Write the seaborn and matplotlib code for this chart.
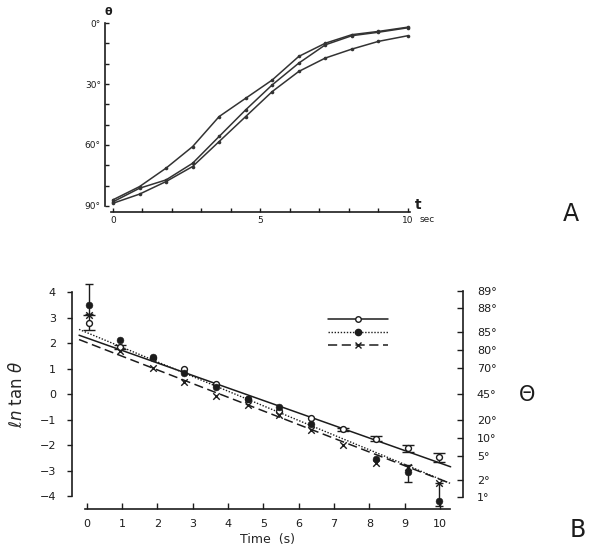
import numpy as np
import matplotlib
matplotlib.use('Agg')
import matplotlib.pyplot as plt
from matplotlib.lines import Line2D
import seaborn as sns

# Painel A: angulo (graus) contra tempo (s)
tempo_a = [0, 0.9, 1.8, 2.7, 3.6, 4.5, 5.4, 6.3, 7.2, 8.1, 9.0, 10.0]
theta_1 = [87.0, 80.5, 71.4, 60.8, 46.0, 37.0, 28.0, 16.4, 9.9, 5.7, 4.1, 2.0]
theta_2 = [88.0, 81.3, 77.2, 69.0, 55.8, 42.7, 30.4, 19.7, 10.7, 6.2, 4.5, 2.3]
theta_3 = [88.7, 84.2, 78.0, 70.6, 58.3, 46.0, 33.7, 23.8, 17.2, 12.8, 9.0, 6.2]

# Painel B: ln tan(theta) contra tempo (s)
tempo_b = [0.05, 0.93, 1.86, 2.75, 3.67, 4.57, 5.44, 6.36, 7.26, 8.2, 9.08, 9.98]
aberto = [2.8, 1.85, 1.42, 0.98, 0.38, -0.2, -0.65, -0.95, -1.37, -1.74, -2.13, -2.48]
aberto_erro = [0.3, 0.08, 0, 0, 0, 0, 0, 0, 0.06, 0.1, 0.12, 0.18]
cheio = [3.5, 2.12, 1.45, 0.84, 0.29, -0.21, -0.5, -1.18, np.nan, -2.56, -3.05, -4.18]
cheio_erro_baixo = [0.35, 0, 0, 0, 0, 0, 0, 0, 0, 0, 0.38, 0.22]
cheio_erro_cima = [0.8, 0, 0, 0, 0, 0, 0, 0, 0, 0, 0.27, 0.68]
cruz = [3.1, 1.7, 1.02, 0.48, -0.08, -0.43, -0.8, -1.41, -2.0, -2.69, -2.85, -3.5]

# retas ajustadas (intercepto, inclinacao) e intervalo de tempo
ajuste_aberto = (2.2, -0.49)
ajuste_cheio = (2.41, -0.574)
ajuste_cruz = (2.02, -0.536)
tempo_ajuste = [-0.22, 10.3]

graus_direita = [1, 2, 5, 10, 20, 45, 70, 80, 85, 88, 89]

TINTA = '#1c1c1c'


def desenhar():
    sns.set_style('ticks')
    plt.rcParams['font.family'] = ['DejaVu Sans']
    plt.rcParams['axes.edgecolor'] = TINTA
    plt.rcParams['xtick.color'] = TINTA
    plt.rcParams['ytick.color'] = TINTA
    plt.rcParams['text.color'] = TINTA

    fig = plt.figure(figsize=(5.99, 5.54), dpi=100)

    # ---------- Painel A ----------
    axA = fig.add_axes([105 / 599, 1 - 212 / 554, 305 / 599, 195 / 554])
    for th in (theta_1, theta_2, theta_3):
        sns.lineplot(x=tempo_a, y=th, ax=axA, color='#333333', linewidth=1.1,
                     marker='o', markersize=2.6, markeredgewidth=0)
    axA.set_xlim(-0.27, 10.07)
    axA.set_ylim(93, -3)
    for s in ('top', 'right'):
        axA.spines[s].set_visible(False)
    axA.spines['left'].set_bounds(0, 90)
    axA.spines['bottom'].set_bounds(-0.05, 10.07)
    axA.spines['left'].set_linewidth(1.2)
    axA.spines['bottom'].set_linewidth(1.2)
    axA.set_yticks([0, 30, 60, 90])
    axA.set_yticklabels(['0°', '30°', '60°', '90°'])
    axA.set_yticks(range(0, 91, 10), minor=True)
    axA.set_xticks([0, 5, 10])
    axA.set_xticks(range(0, 11), minor=True)
    axA.tick_params(which='both', direction='in', length=3, width=1, labelsize=6.5, pad=3)
    axA.set_xlabel('')
    axA.set_ylabel('')
    fig.text(108 / 599, 1 - 12 / 554, 'θ', fontsize=8, fontweight='bold', ha='center', va='center')
    fig.text(418 / 599, 1 - 205 / 554, 't', fontsize=10, fontweight='bold', ha='center', va='center')
    fig.text(420 / 599, 1 - 220 / 554, 'sec', fontsize=6.5, ha='left', va='center')
    fig.text(571 / 599, 1 - 214 / 554, 'A', fontsize=17, ha='center', va='center')

    # ---------- Painel B ----------
    axB = fig.add_axes([72 / 599, 1 - 509 / 554, 391 / 599, 229.75 / 554])
    t_fit = np.array(tempo_ajuste)
    sns.lineplot(x=t_fit, y=ajuste_aberto[0] + ajuste_aberto[1] * t_fit, ax=axB,
                 color=TINTA, linewidth=1.1, linestyle='-')
    sns.lineplot(x=t_fit, y=ajuste_cheio[0] + ajuste_cheio[1] * t_fit, ax=axB,
                 color=TINTA, linewidth=1.0, linestyle=(0, (1, 1.2)))
    sns.lineplot(x=t_fit, y=ajuste_cruz[0] + ajuste_cruz[1] * t_fit, ax=axB,
                 color=TINTA, linewidth=1.1, linestyle=(0, (6, 3)))

    tb = np.array(tempo_b)
    ea = np.array(aberto_erro)
    m = ea > 0
    axB.errorbar(tb[m], np.array(aberto)[m], yerr=ea[m], fmt='none', ecolor=TINTA,
                 elinewidth=1, capsize=4, capthick=1, clip_on=False)
    eb = np.array(cheio_erro_baixo)
    ec = np.array(cheio_erro_cima)
    m2 = (eb + ec) > 0
    axB.errorbar(tb[m2], np.array(cheio)[m2], yerr=[eb[m2], ec[m2]], fmt='none',
                 ecolor=TINTA, elinewidth=1, capsize=3, capthick=1, clip_on=False)

    sns.scatterplot(x=tempo_b, y=aberto, ax=axB, marker='o', s=18, facecolor='white',
                    edgecolor=TINTA, linewidth=1, zorder=5, clip_on=False)
    sns.scatterplot(x=tempo_b, y=cheio, ax=axB, marker='o', s=24, color=TINTA,
                    edgecolor=TINTA, zorder=5, clip_on=False)
    sns.scatterplot(x=tempo_b, y=cruz, ax=axB, marker='x', s=22, color=TINTA,
                    linewidth=1, zorder=5, clip_on=False)

    axB.set_xlim(-0.42, 10.65)
    axB.set_ylim(-4.5, 4.5)
    axB.spines['top'].set_visible(False)
    axB.spines['right'].set_visible(False)
    axB.spines['left'].set_bounds(-4, 4)
    axB.spines['bottom'].set_bounds(-0.06, 10.28)
    for s in ('left', 'bottom'):
        axB.spines[s].set_linewidth(1.2)
    axB.set_yticks(range(-4, 5))
    axB.set_yticklabels([str(v).replace('-', '−') for v in range(-4, 5)])
    axB.set_yticks([-4, 4], minor=True)
    axB.tick_params(axis='y', which='major', direction='out', length=3.5, width=1,
                    labelsize=8, pad=8)
    axB.tick_params(axis='y', which='minor', direction='in', length=4, width=1)
    axB.set_xticks(range(0, 11))
    axB.tick_params(axis='x', direction='in', length=4, width=1, labelsize=8, pad=7)
    axB.set_xlabel('Time  (s)', fontsize=9, labelpad=3)
    axB.set_ylabel(r'$\ell n$ tan $\theta$', fontsize=12, labelpad=10)

    ax2 = axB.twinx()
    ax2.set_ylim(axB.get_ylim())
    pos = np.log(np.tan(np.radians(graus_direita)))
    ax2.set_yticks(pos)
    ax2.set_yticklabels([f'{g}°' for g in graus_direita])
    for s in ('top', 'left', 'bottom'):
        ax2.spines[s].set_visible(False)
    ax2.spines['right'].set_bounds(pos[0], pos[-1])
    ax2.spines['right'].set_linewidth(1.2)
    ax2.tick_params(axis='y', direction='in', length=4, width=1, labelsize=8, pad=10)
    fig.text(527 / 599, 1 - 395 / 554, 'Θ', fontsize=15, ha='center', va='center')
    fig.text(578 / 599, 1 - 530 / 554, 'B', fontsize=17, ha='center', va='center')

    handles = [
        Line2D([], [], color=TINTA, linewidth=1.1, linestyle='-', marker='o',
               markersize=4, markerfacecolor='white', markeredgecolor=TINTA),
        Line2D([], [], color=TINTA, linewidth=1.0, linestyle=(0, (1, 1.2)), marker='o',
               markersize=4.5, markerfacecolor=TINTA, markeredgecolor=TINTA),
        Line2D([], [], color=TINTA, linewidth=1.1, linestyle=(0, (6, 3)), marker='x',
               markersize=4.5, markeredgewidth=1),
    ]
    axB.legend(handles, ['', '', ''], loc='center', bbox_to_anchor=(358 / 599, 1 - 333 / 554),
               bbox_transform=fig.transFigure, frameon=False, handlelength=5.4,
               handletextpad=0, numpoints=1, labelspacing=0.25, fontsize=8)

    fig.savefig('out.png', dpi=100)


if __name__ == '__main__':
    desenhar()
